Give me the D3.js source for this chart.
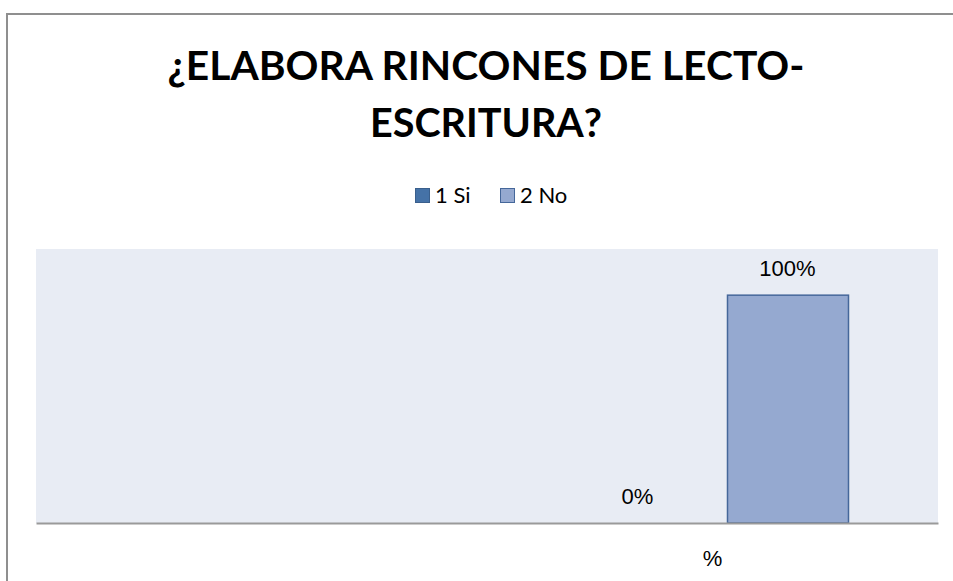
<!DOCTYPE html>
<html>
<head>
<meta charset="utf-8">
<script src="https://cdn.jsdelivr.net/npm/d3@7/dist/d3.min.js"></script>
<style>
  html, body { margin: 0; padding: 0; background: #ffffff; overflow: hidden; }
  svg { display: block; }
</style>
</head>
<body>
<svg id="chart" width="953" height="581"></svg>
<script>
// ---- data ----
const titleLines = ["¿ELABORA RINCONES DE LECTO-", "ESCRITURA?"];
const categories = ["", "%"];
const seriesNames = ["1 Si", "2 No"];
const siValues = [null, 0];
const noValues = [null, 1];
const yMax = 1.2;

// ---- layout ----
const W = 953, H = 581;
const plot = { left: 36, right: 938, top: 249, bottom: 523 };
const colors = { "1 Si": "#4572A7", "2 No": "#95A9D0" };
const strokes = { "1 Si": "#3A5F8C", "2 No": "#45679A" };

const svg = d3.select("#chart");

svg.append("rect")
  .attr("x", 7).attr("y", 14)
  .attr("width", W + 20).attr("height", H + 20)
  .attr("fill", "none").attr("stroke", "#8f8f8f").attr("stroke-width", 2);

// title (condensed to mimic Calibri Bold)
const titleG = svg.append("g");
const titleBaselines = [80, 137];
const titleWidths = [637, 232];
titleLines.forEach((t, i) => {
  titleG.append("text")
    .attr("x", 486).attr("y", titleBaselines[i])
    .attr("text-anchor", "middle")
    .attr("font-family", "Lato, 'Open Sans', sans-serif")
    .attr("font-weight", "bold")
    .attr("font-size", 40)
    .attr("textLength", titleWidths[i])
    .attr("lengthAdjust", "spacingAndGlyphs")
    .attr("fill", "#000")
    .text(t);
});

// legend
const legendItems = [
  { name: "1 Si", x: 415 },
  { name: "2 No", x: 500 }
];
const lg = svg.append("g");
legendItems.forEach(it => {
  lg.append("rect")
    .attr("x", it.x + 0.5).attr("y", 188.5)
    .attr("width", 14).attr("height", 14)
    .attr("fill", colors[it.name]).attr("stroke", strokes[it.name]).attr("stroke-width", 1);
  lg.append("text")
    .attr("x", it.x + 20).attr("y", 203)
    .attr("font-family", "Lato, 'Open Sans', sans-serif")
    .attr("font-size", 22)
    .attr("fill", "#000")
    .text(it.name);
});

// scales
const x0 = d3.scaleBand().domain(categories).range([plot.left, plot.right]).paddingInner(0).paddingOuter(0);
const bw = x0.bandwidth();
const x1 = d3.scaleBand().domain(seriesNames)
  .range([bw / 2 - 150, bw / 2 + 150])
  .paddingInner(0.1933).paddingOuter(0.0967);
const y = d3.scaleLinear().domain([0, yMax]).range([plot.bottom, plot.top]);

svg.append("rect")
  .attr("x", plot.left).attr("y", plot.top)
  .attr("width", plot.right - plot.left).attr("height", plot.bottom - plot.top)
  .attr("fill", "#E8ECF4");

const rows = categories.map((c, i) => ({ cat: c, values: [
  { name: "1 Si", v: siValues[i] },
  { name: "2 No", v: noValues[i] }
]}));

const groups = svg.append("g").selectAll("g").data(rows).join("g")
  .attr("transform", d => `translate(${x0(d.cat)},0)`);

groups.selectAll("rect.bar")
  .data(d => d.values.filter(v => v.v !== null && v.v > 0))
  .join("rect").attr("class", "bar")
  .attr("x", d => x1(d.name) + 0.5)
  .attr("y", d => y(d.v) + 0.5)
  .attr("width", x1.bandwidth())
  .attr("height", d => y(0) - y(d.v) - 0.5)
  .attr("fill", d => colors[d.name])
  .attr("stroke", d => strokes[d.name])
  .attr("stroke-width", 1.5);

groups.selectAll("text.lbl")
  .data(d => d.values.filter(v => v.v !== null))
  .join("text").attr("class", "lbl")
  .attr("x", d => x1(d.name) + x1.bandwidth() / 2)
  .attr("y", d => y(d.v) - 19)
  .attr("text-anchor", "middle")
  .attr("font-family", "'Liberation Sans', Arial, sans-serif")
  .attr("font-size", 22)
  .attr("fill", "#000")
  .text(d => d3.format(".0%")(d.v));

const xAxis = d3.axisBottom(x0).tickSize(0).tickPadding(27);
const ax = svg.append("g").attr("transform", `translate(0,${plot.bottom})`).call(xAxis);
ax.select(".domain").attr("stroke", "#9a9a9a").attr("stroke-width", 2);
ax.selectAll("text")
  .attr("font-family", "'Liberation Sans', Arial, sans-serif")
  .attr("font-size", 22)
  .attr("fill", "#000");
</script>
</body>
</html>
